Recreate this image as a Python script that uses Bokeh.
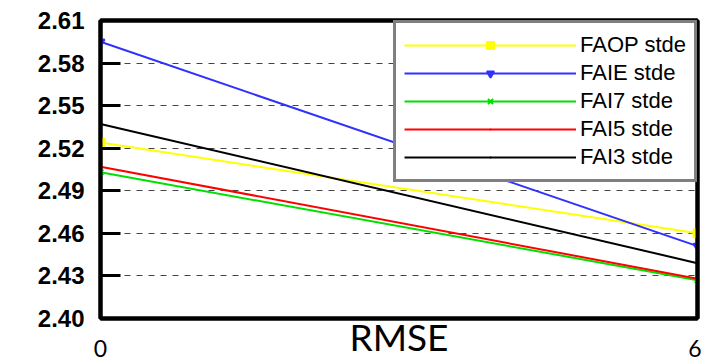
from bokeh.plotting import figure
from bokeh.models import (FixedTicker, NumeralTickFormatter, Legend, LegendItem,
                          Range1d, LinearAxis)
from bokeh.embed import file_html
from bokeh.resources import INLINE

# RMSE positions
rmse = [0, 6]

# standard-deviation estimates per method
faop_stde = [2.524, 2.460]
faie_stde = [2.595, 2.451]
fai7_stde = [2.503, 2.427]
fai5_stde = [2.507, 2.428]
fai3_stde = [2.537, 2.439]

y_ticks = [2.40, 2.43, 2.46, 2.49, 2.52, 2.55, 2.58, 2.61]
x_ticks = [0, 6]
x_title = "RMSE"

series = [
    ("FAOP stde", faop_stde, "#ffff00", "square"),
    ("FAIE stde", faie_stde, "#3030ff", "inverted_triangle"),
    ("FAI7 stde", fai7_stde, "#00e000", "x"),
    ("FAI5 stde", fai5_stde, "#ff0000", "dot"),
    ("FAI3 stde", fai3_stde, "#000000", "dot"),
]

p = figure(width=701, height=362, output_backend="svg", toolbar_location=None,
           x_range=Range1d(0, 6), y_range=Range1d(2.40, 2.61),
           min_border_left=100, min_border_right=4, min_border_top=20,
           min_border_bottom=44)

p.outline_line_color = "black"
p.outline_line_width = 4
p.background_fill_color = "white"
p.border_fill_color = "white"

# y axis
ya = p.yaxis[0]
ya.ticker = FixedTicker(ticks=y_ticks)
ya.formatter = NumeralTickFormatter(format="0.00")
ya.axis_line_width = 4
ya.major_tick_in = 20
ya.major_tick_out = 0
ya.major_tick_line_width = 3
ya.minor_tick_line_color = None
ya.major_label_standoff = 16
ya.major_label_text_font = "Liberation Sans"
ya.major_label_text_font_style = "bold"
ya.major_label_text_font_size = "24px"
ya.major_label_text_color = "black"

# x axis: tick labels plus a title pulled up onto the same row
xa = p.xaxis[0]
xa.ticker = FixedTicker(ticks=x_ticks)
xa.axis_line_width = 4
xa.major_tick_in = 0
xa.major_tick_out = 0
xa.minor_tick_line_color = None
xa.major_label_standoff = 21
xa.major_label_text_font = "Lato"
xa.major_label_text_font_size = "23px"
xa.major_label_text_color = "black"
xa.axis_label = x_title
xa.axis_label_standoff = -46
xa.axis_label_text_font = "Lato"
xa.axis_label_text_font_style = "normal"
xa.axis_label_text_font_size = "37px"
xa.axis_label_text_color = "black"

# plain lines closing the frame on top and right
for side in ("above", "right"):
    ax = LinearAxis(ticker=FixedTicker(ticks=[]), axis_line_width=4,
                    axis_line_color="black", major_tick_line_color=None,
                    minor_tick_line_color=None, major_label_text_font_size="0px")
    p.add_layout(ax, side)

p.xgrid.visible = False
p.ygrid.ticker = FixedTicker(ticks=y_ticks[1:-1])
p.ygrid.grid_line_color = "#444444"
p.ygrid.grid_line_dash = "6 6"
p.ygrid.grid_line_width = 1

items = []
for name, vals, color, marker in series:
    r1 = p.line(rmse, vals, line_color=color, line_width=2)
    r2 = p.scatter(rmse, vals, marker=marker, size=8, line_color=color,
                   fill_color=color, line_width=2)
    items.append(LegendItem(label=name, renderers=[r1, r2]))

legend = Legend(items=items, location="top_right", margin=0, padding=8,
                spacing=0, glyph_width=172, glyph_height=18, label_height=28,
                label_standoff=4, label_text_font="Liberation Sans",
                label_text_font_size="22px", label_text_color="black",
                border_line_color="black", border_line_width=3,
                background_fill_color="white", background_fill_alpha=1.0)
p.add_layout(legend)

open("out.html", "w").write(file_html(p, INLINE))
